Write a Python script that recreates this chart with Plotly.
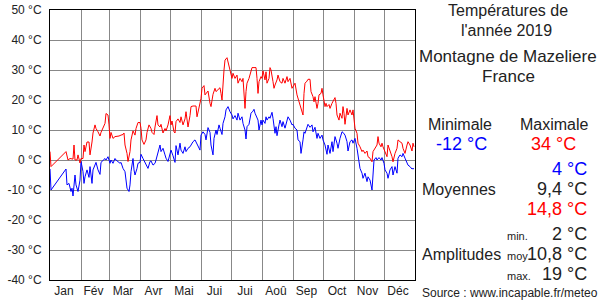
import plotly.graph_objects as go

# ---- data (day of year index 0..364, °C) ----
max_days = [0,1,16,18,20,23,24,25,27,28,30,31,33,34,35,37,39,40,42,43,45,46,48,50,51,53,55,56,58,59,60,61,63,65,67,69,71,73,74,75,77,78,80,81,83,85,86,88,90,91,92,94,96,97,99,101,102,104,105,107,108,110,111,113,115,116,118,120,121,122,124,125,126,128,130,131,133,135,136,138,140,141,143,145,146,147,149,151,152,154,155,157,158,160,161,163,165,166,168,170,171,172,174,175,177,179,180,182,183,185,187,188,190,192,193,195,196,197,199,201,202,204,206,207,208,209,211,212,213,215,216,217,219,220,221,223,224,225,227,228,230,232,233,235,237,238,240,242,243,245,247,248,250,251,253,254,255,257,258,260,261,263,264,265,267,268,269,271,272,273,275,276,277,279,280,282,283,285,286,287,289,290,292,293,294,295,297,298,300,302,303,304,305,307,308,310,312,313,315,317,318,320,322,323,325,327,328,329,331,332,333,335,337,338,340,342,343,345,347,348,350,352,353,355,357,358,360,362,363,364]
max_vals = [2.8,-2.2,2.8,0,0.5,0.3,5,0,0,1.7,-1,0.5,0.5,5,2.8,6,6,1.7,6,9,11.7,10.5,9.4,8,9.2,11,12.2,15.5,15,11.7,7.2,9.2,7.2,7.8,7.8,8,8.3,8.5,9,5,2.2,-0.5,2.8,6.7,9.7,8.3,10.5,12.5,12.5,10.5,6.7,5.2,6.7,9.2,11.7,10.5,9.2,8.5,11,14.8,11.7,11,11.9,9,10.5,9.7,11.7,14.8,11.7,13,9.4,9,12.8,13.7,12.5,14.4,11.7,13.7,16.1,11,14.8,17.8,18,18,18,14.4,17.2,20.5,23.9,24.8,21.7,22.8,23,18.9,17.8,21.9,23.9,22.8,23.3,24.1,22.2,20,30,33.3,34.1,31.1,30.6,27.2,28.9,27.2,28.3,25.6,27.2,26.1,27.2,17.2,22.8,25.6,27.2,29.4,30.8,30.8,30.8,27.2,22.2,26.1,27.8,27.2,29.7,26.7,29.4,25.6,27.2,30.8,30,26.1,23.9,25,26.7,28.3,26.1,25.6,27.2,25.6,27.8,26.1,27.2,23.9,24.4,25.6,21.7,20.6,18.3,16.7,15,22.2,25.6,26.3,26.9,26.9,22.8,21.1,19.4,21.1,17.2,18.9,21.7,22.2,23.9,21.7,17.8,18.9,17.8,18.5,17.2,18.9,19.4,20.8,18.9,15,13.3,15.6,13.9,17.8,15.6,11.9,17.2,15,16.7,15,16.7,12.8,10.6,8.9,5.6,4.4,2.8,3.3,2.2,3,1.1,0.6,-0.6,2.8,3.9,5,7.8,5.6,4.4,5.6,4.4,2.8,1.1,5,3.3,1.1,-0.6,2.2,3.9,6.7,6.1,5.6,3.9,2.2,5,6.1,5,3,5.6,4.4]

min_days = [0,1,16,17,19,21,22,23,25,26,28,30,31,33,34,35,37,39,40,42,43,45,46,48,50,51,53,55,56,58,60,61,63,65,66,68,70,71,73,75,76,77,79,80,81,83,84,85,87,88,90,91,93,95,96,98,100,101,103,105,106,108,110,111,113,115,116,118,120,121,123,125,126,128,130,131,133,135,136,138,140,141,143,145,146,148,150,151,153,155,156,158,160,161,163,164,166,167,169,170,172,173,175,176,178,180,182,183,185,187,188,190,192,193,195,196,197,199,200,201,203,204,205,207,208,209,211,212,213,215,216,217,219,220,222,223,225,226,227,229,230,232,233,235,237,238,240,242,243,245,247,248,250,251,253,254,255,257,258,260,262,263,265,267,268,270,272,273,275,277,278,280,282,283,285,287,288,290,292,293,295,297,298,300,302,303,305,307,308,310,312,313,315,317,318,320,322,323,324,326,327,329,331,332,334,335,337,338,340,342,343,345,347,348,350,352,353,355,357,358,360,362,363,364]
min_vals = [-3,-10,-3,-8.3,-7.8,-10.5,-9.4,-12,-5,-8.3,-10.5,-6.7,-0.5,-3.9,-7.8,-5.6,-3.3,-5.8,-2.2,-7.8,-3.3,-1.4,-0.8,-3.3,-4.8,-0.8,-0.3,0.5,0,1.1,-1.1,0,-1.1,0.5,0,-0.6,-1.1,-0.8,-2.8,-3.9,-6.7,-9.4,-10.5,-8.3,-3.9,0.5,-3.3,-5,-2.8,-1.1,-0.8,1.9,0.5,-0.8,-1.9,-2.8,-0.5,-0.3,-1.7,-1.1,0,2.8,5,2.8,3.9,1.7,0.6,-0.5,2.2,3.3,1.4,-0.8,4.8,1.7,5.6,3.3,2.2,4.4,2.8,3.9,4.4,5,6.1,6.7,6.1,5,3.3,8.3,9.4,8.5,6.7,10.8,9.2,5,1.7,7.2,10,8.5,11.7,10.6,8.5,12.2,14.4,16.7,17.8,16.1,15,13.7,14.8,13.3,15.6,13.3,14.4,12.2,10,7,11.1,11.9,13.3,15.6,16.3,16.9,15.6,13.9,13.3,10,13.3,11.7,13.3,12.2,14.4,13.3,14.4,13.9,15.9,13.9,8.9,11.1,8.1,11.7,13.3,11.1,12.8,10.6,12.8,14.4,13.3,11.7,11.9,10.6,10,6.7,6.1,2.2,6.7,9.4,8.9,11.1,11.9,10.9,11.7,9.4,10.9,7.2,8.9,7.2,8.3,6.7,5,1.9,5,2.2,6.1,2.8,7.8,5.6,3.9,7.2,9.4,9.2,8.3,6.1,3,6.1,6.7,5.6,7.2,3.9,1.1,-2.8,-4.4,-6.1,-4.4,-7.2,-5.6,-6.7,-10,-2.2,0,0.8,0,0.8,0,0.8,-1.1,-3.3,-4.4,-6.1,-3.3,-2.2,-5,-2.2,-4.4,0.6,1.7,1.1,2.2,0.6,-0.6,-1.7,-2.2,-3,-2.8,-3]

month_lengths = [31, 28, 31, 30, 31, 30, 31, 31, 30, 31, 30, 31]
month_labels = ["Jan", "Fév", "Mar", "Avr", "Mai", "Jui", "Jui", "Aoû", "Sep", "Oct", "Nov", "Déc"]
y_ticks = [-40, -30, -20, -10, 0, 10, 20, 30, 40, 50]

title_lines = ["Températures de", "l'année 2019"]
place_lines = ["Montagne de Mazeliere", "France"]
stat_min, stat_max = "-12 °C", "34 °C"
moy_min, moy_avg, moy_max = "4 °C", "9,4 °C", "14,8 °C"
amp_min, amp_moy, amp_max = "2 °C", "10,8 °C", "19 °C"
source_text = "Source : www.incapable.fr/meteo"

# ---- derived axis positions ----
bounds = [0]
for m in month_lengths:
    bounds.append(bounds[-1] + m)
mid_months = [(bounds[i] + bounds[i + 1]) / 2 - 1.5 for i in range(12)]

FONT = "Liberation Sans, Arial, sans-serif"
TXT = "#222222"

fig = go.Figure()
fig.add_trace(go.Scatter(x=min_days, y=min_vals, mode="lines",
                         line=dict(color="#0000ff", width=1), hoverinfo="skip"))
fig.add_trace(go.Scatter(x=max_days, y=max_vals, mode="lines",
                         line=dict(color="#ff0000", width=1), hoverinfo="skip"))

# layout geometry: plot area x 50..415, y 10..280
L, R, T, B = 50, 185, 10, 20
W, H = 600, 300
pw, ph = W - L - R, H - T - B


def px(xp):
    return (xp - L) / pw


def py(yp):
    return (H - B - yp) / ph


def ann(text, x, y, size, color=TXT, xanchor="center"):
    fig.add_annotation(text=text, x=px(x), y=py(y), xref="paper", yref="paper",
                       showarrow=False, xanchor=xanchor, yanchor="middle",
                       font=dict(family=FONT, size=size, color=color))


ann(title_lines[0], 508, 10, 16)
ann(title_lines[1], 506, 30, 16)
ann(place_lines[0], 508, 57, 17)
ann(place_lines[1], 508, 77, 17)
ann("Minimale", 460, 124, 16)
ann("Maximale", 554, 124, 16)
ann(stat_min, 461, 144, 18, "#0000ff")
ann(stat_max, 553, 144, 18, "#ff0000")
ann(moy_min, 589, 169, 18, "#0000ff", "right")
ann("Moyennes", 420, 189, 16, TXT, "left")
ann(moy_avg, 589, 189, 18, TXT, "right")
ann(moy_max, 589, 209, 18, "#ff0000", "right")
ann("min.", 505, 236, 11, TXT, "left")
ann(amp_min, 589, 234, 18, TXT, "right")
ann("Amplitudes", 420, 254, 16, TXT, "left")
ann("moy", 505, 256, 11, TXT, "left")
ann(amp_moy, 589, 254, 18, TXT, "right")
ann("max.", 505, 276, 11, TXT, "left")
ann(amp_max, 589, 274, 18, TXT, "right")
ann(source_text, 420, 293, 12, TXT, "left")

fig.update_layout(
    width=W, height=H,
    margin=dict(l=L, r=R, t=T, b=B, autoexpand=False),
    paper_bgcolor="white", plot_bgcolor="white",
    showlegend=False,
    font=dict(family=FONT, size=12, color=TXT),
    xaxis=dict(range=[0, 365], tickmode="array", tickvals=mid_months, ticktext=month_labels,
               showgrid=False, ticks="", showline=True, linecolor="black", linewidth=1,
               mirror=True, zeroline=False, automargin=False,
               tickfont=dict(size=12, color=TXT),
               minor=dict(tickmode="array", tickvals=bounds[1:-1], showgrid=True,
                          gridcolor="#888888", gridwidth=1, ticks="")),
    yaxis=dict(range=[-40, 50], tickmode="array", tickvals=y_ticks,
               ticktext=[f"{v} °C" for v in y_ticks],
               showgrid=True, gridcolor="#888888", gridwidth=1, ticks="",
               showline=True, linecolor="black", linewidth=1, mirror=True,
               zeroline=False, automargin=False, ticklabelstandoff=5,
               tickfont=dict(size=12, color=TXT)),
)

fig.write_html("out.html")
